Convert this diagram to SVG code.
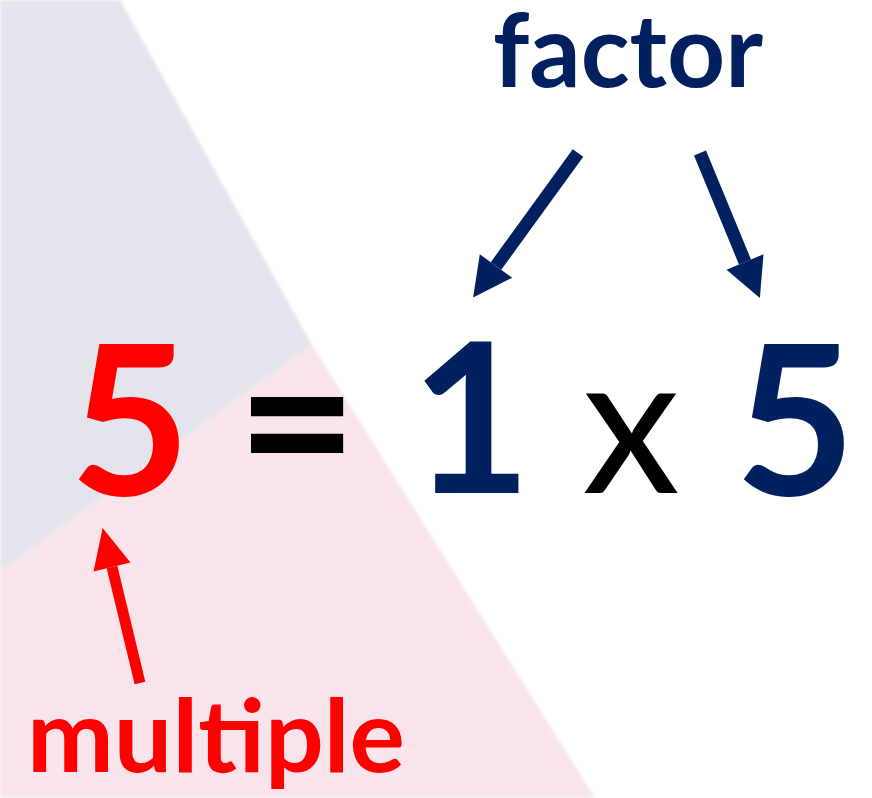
<svg xmlns="http://www.w3.org/2000/svg" width="872" height="798" viewBox="0 0 872 798">
  <defs>
    <style>
      .big { font-family: "Lato", "Open Sans", "Liberation Sans", sans-serif; font-weight: 700; font-size: 208px; text-anchor: middle; }
      .lbl { font-family: "Lato", "Open Sans", "Liberation Sans", sans-serif; font-weight: 700; font-size: 102px; }
      .navy { fill: #002060; }
      .red { fill: #ff0000; }
      .blk { fill: #000000; }
      .conn-navy { stroke: #002060; stroke-width: 13; fill: none; }
      .conn-red { stroke: #ff0000; stroke-width: 11; fill: none; }
    </style>
    <filter id="soft" x="-5%" y="-5%" width="110%" height="110%">
      <feGaussianBlur stdDeviation="1.5"/>
    </filter>
    <marker id="headNavy" markerUnits="userSpaceOnUse" viewBox="0 -21 40 42" refX="0" refY="0" markerWidth="40" markerHeight="42" orient="auto" overflow="visible">
      <path d="M0,-20 L39,0 L0,20 Z" fill="#002060"/>
    </marker>
    <marker id="headRed" markerUnits="userSpaceOnUse" viewBox="0 -21 40 42" refX="0" refY="0" markerWidth="40" markerHeight="42" orient="auto" overflow="visible">
      <path d="M0,-19 L40,0 L0,19 Z" fill="#ff0000"/>
    </marker>
  </defs>

  <rect width="872" height="798" fill="#ffffff"/>
  <g id="background" filter="url(#soft)">
    <polygon points="0,0 120,0 312,345 0,572" fill="#e4e5ec"/>
    <polygon points="0,572 312,345 595,798 0,798" fill="#f9e4ec"/>
  </g>

  <g id="connectors">
    <line x1="578" y1="153" x2="496" y2="266" class="conn-navy" marker-end="url(#headNavy)"/>
    <line x1="700" y1="153" x2="745" y2="262" class="conn-navy" marker-end="url(#headNavy)"/>
    <line x1="140" y1="683" x2="112" y2="567" class="conn-red" marker-end="url(#headRed)"/>
  </g>

  <g id="factor">
    <text x="493" y="87" class="lbl navy" textLength="270" lengthAdjust="spacingAndGlyphs">factor</text>
  </g>
  <g id="multiple">
    <text x="27" y="772" class="lbl red" textLength="378" lengthAdjust="spacingAndGlyphs">multiple</text>
  </g>
  <g id="multiple-5">
    <text x="130" y="495" class="big red">5</text>
  </g>
  <g id="equals">
    <text x="297" y="495" class="big blk">=</text>
  </g>
  <g id="factor-1">
    <text x="471" y="493" class="big navy">1</text>
  </g>
  <g id="times">
    <text x="631" y="493" class="big blk" style="font-weight:400;font-size:196px">x</text>
  </g>
  <g id="factor-5">
    <text x="795" y="495" class="big navy">5</text>
  </g>
</svg>
